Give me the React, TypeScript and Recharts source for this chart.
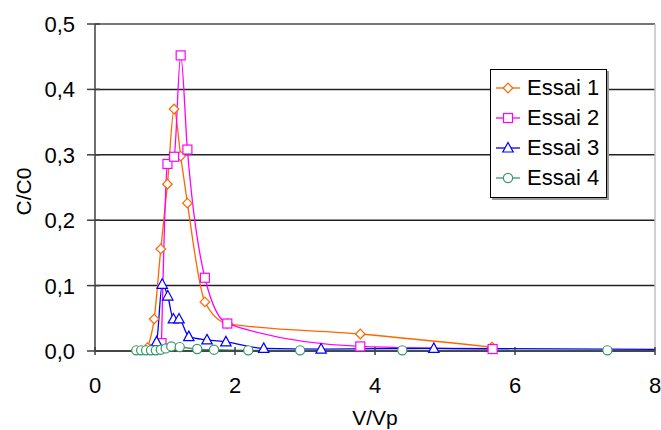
import React from "react";
import {
    CartesianGrid,
    Legend,
    Line,
    LineChart,
    ReferenceLine,
    XAxis,
    YAxis,
} from "recharts";

// Breakthrough curves, four runs: C/C0 against V/Vp
const essai1X = [0.75, 0.845, 0.94, 1.035, 1.13, 1.224, 1.32, 1.57, 1.89, 3.79, 5.67];
const essai1Y = [0.005, 0.049, 0.156, 0.255, 0.37, 0.298, 0.226, 0.075, 0.042, 0.026, 0.006];

const essai2X = [0.95, 1.035, 1.13, 1.224, 1.32, 1.57, 1.89, 3.79, 5.68];
const essai2Y = [0.012, 0.286, 0.297, 0.452, 0.308, 0.112, 0.042, 0.007, 0.003];

const essai3X = [0.8, 0.88, 0.96, 1.04, 1.12, 1.2, 1.34, 1.6, 1.87, 2.41, 3.23, 4.84, 8.6];
const essai3Y = [0.001, 0.014, 0.102, 0.084, 0.049, 0.049, 0.022, 0.017, 0.014, 0.004, 0.003, 0.004, 0.002];

const essai4X = [0.59, 0.66, 0.73, 0.8, 0.87, 0.94, 1.01, 1.09, 1.21, 1.46, 1.7, 2.19, 2.93, 4.39, 7.32];
const essai4Y = [0.001, 0.001, 0.001, 0.001, 0.001, 0.002, 0.004, 0.007, 0.006, 0.003, 0.002, 0.001, 0.001, 0.001, 0.001];

const xTicks = [0, 2, 4, 6, 8];
const yTicks = [0, 0.1, 0.2, 0.3, 0.4, 0.5];

const FONT = '"Liberation Sans", Arial, sans-serif';
const TICK_SIZE = 6;
const TICK_MARGIN = 4;

type MarkerKind = "diamond" | "square" | "triangle" | "circle";

const series: { name: string; color: string; marker: MarkerKind; xs: number[]; ys: number[] }[] = [
    { name: "Essai 1", color: "#ff6600", marker: "diamond", xs: essai1X, ys: essai1Y },
    { name: "Essai 2", color: "#ff00ff", marker: "square", xs: essai2X, ys: essai2Y },
    { name: "Essai 3", color: "#0000ff", marker: "triangle", xs: essai3X, ys: essai3Y },
    { name: "Essai 4", color: "#339966", marker: "circle", xs: essai4X, ys: essai4Y },
];

function Marker({ kind, cx, cy, color }: { kind: MarkerKind; cx: number; cy: number; color: string }) {
    const common = { fill: "#ffffff", stroke: color, strokeWidth: 1.2 };
    if (kind === "diamond") {
        const r = 4.8;
        return <polygon points={`${cx},${cy - r} ${cx + r},${cy} ${cx},${cy + r} ${cx - r},${cy}`} {...common} />;
    }
    if (kind === "square") {
        return <rect x={cx - 4.5} y={cy - 4.5} width={9} height={9} {...common} />;
    }
    if (kind === "triangle") {
        return <polygon points={`${cx},${cy - 5.5} ${cx + 5.2},${cy + 4} ${cx - 5.2},${cy + 4}`} {...common} />;
    }
    return <circle cx={cx} cy={cy} r={4.6} {...common} />;
}

const formatY = (v: number) => v.toFixed(1).replace(".", ",");

function YTick(props: any) {
    const { x, y, payload } = props;
    const axisX = x + TICK_SIZE + TICK_MARGIN;
    return (
        <g>
            <line x1={axisX - 8} x2={axisX + 5} y1={y} y2={y} stroke="#404040" strokeWidth={1.5} />
            <text x={axisX - 20} y={y} dy="0.36em" textAnchor="end" fontSize={22} fontFamily={FONT} fill="#000">
                {formatY(payload.value)}
            </text>
        </g>
    );
}

function XTick(props: any) {
    const { x, y, payload } = props;
    const axisY = y - TICK_SIZE - TICK_MARGIN;
    return (
        <g>
            <line x1={x} x2={x} y1={axisY - 4} y2={axisY + 4} stroke="#404040" strokeWidth={1.5} />
            <text x={x} y={axisY + 42} textAnchor="middle" fontSize={22} fontFamily={FONT} fill="#000">
                {payload.value}
            </text>
        </g>
    );
}

function LegendBox() {
    return (
        <div
            style={{
                width: 115,
                border: "1px solid #000",
                background: "#fff",
                boxShadow: "2px 2px 0 #9a9a9a",
                padding: "3px 0 4px 0",
                fontFamily: FONT,
                fontSize: 22,
                textAlign: "left",
            }}
        >
            {series.map((s) => (
                <div key={s.name} style={{ display: "flex", alignItems: "center", height: 30 }}>
                    <svg width={36} height={30} style={{ flex: "none" }}>
                        <line x1={5} x2={29} y1={15} y2={15} stroke={s.color} strokeWidth={1.3} />
                        <Marker kind={s.marker} cx={17} cy={15} color={s.color} />
                    </svg>
                    <span style={{ color: "#000", lineHeight: "30px" }}>{s.name}</span>
                </div>
            ))}
        </div>
    );
}

export default function App() {
    return (
        <div style={{ position: "absolute", left: 0, top: 0, background: "#fff" }}>
            <LineChart
                width={661}
                height={430}
                margin={{ top: 24, right: 6, bottom: 0, left: 0 }}
                style={{ overflow: "visible" }}
            >
                <CartesianGrid vertical={false} stroke="#222" strokeWidth={1.5} />

                <XAxis
                    type="number"
                    dataKey="x"
                    domain={[0, 8]}
                    ticks={xTicks}
                    allowDataOverflow
                    height={79}
                    stroke="#404040"
                    strokeWidth={1.5}
                    tickSize={TICK_SIZE}
                    tickMargin={TICK_MARGIN}
                    tickLine={false}
                    tick={<XTick />}
                    label={{
                        content: (p: any) => {
                            const vb = p.viewBox;
                            return (
                                <text
                                    x={vb.x + vb.width / 2}
                                    y={vb.y + 74}
                                    textAnchor="middle"
                                    fontSize={21}
                                    fontFamily={FONT}
                                    fill="#000"
                                >
                                    V/Vp
                                </text>
                            );
                        },
                    }}
                />

                <YAxis
                    type="number"
                    dataKey="y"
                    domain={[0, 0.5]}
                    ticks={yTicks}
                    width={95}
                    stroke="#404040"
                    strokeWidth={1.5}
                    tickSize={TICK_SIZE}
                    tickMargin={TICK_MARGIN}
                    tickLine={false}
                    tick={<YTick />}
                    label={{
                        content: (p: any) => {
                            const vb = p.viewBox;
                            return (
                                <text
                                    transform={`translate(${vb.x + 31}, ${vb.y + vb.height / 2 + 4}) rotate(-90)`}
                                    textAnchor="middle"
                                    fontSize={21}
                                    fontFamily={FONT}
                                    fill="#000"
                                >
                                    C/C0
                                </text>
                            );
                        },
                    }}
                />

                <ReferenceLine y={0.5} stroke="#808080" strokeWidth={1.5} />
                <ReferenceLine x={8} stroke="#c0c0c0" strokeWidth={1.5} />

                {series.map((s) => (
                    <Line
                        key={s.name}
                        name={s.name}
                        data={s.xs.map((x, i) => ({ x, y: s.ys[i] }))}
                        dataKey="y"
                        type="monotone"
                        stroke={s.color}
                        strokeWidth={1.3}
                        isAnimationActive={false}
                        activeDot={false}
                        dot={(p: any) => (
                            <Marker key={`${s.name}-${p.index}`} kind={s.marker} cx={p.cx} cy={p.cy} color={s.color} />
                        )}
                    />
                ))}

                <Legend
                    layout="horizontal"
                    verticalAlign="middle"
                    align="center"
                    content={() => <LegendBox />}
                    wrapperStyle={{ position: "absolute", left: 490, top: 69, width: 117, height: "auto" }}
                />
            </LineChart>
        </div>
    );
}
